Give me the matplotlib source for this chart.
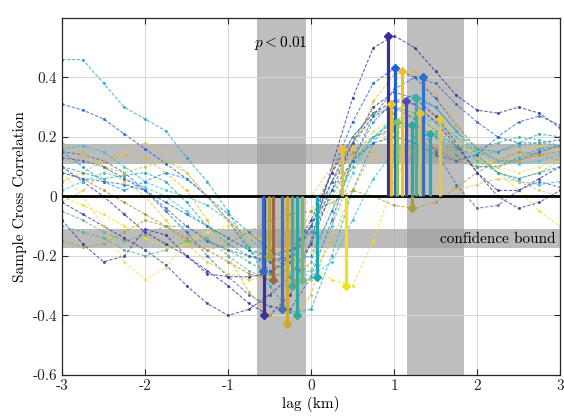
import matplotlib
matplotlib.use("Agg")
import matplotlib.pyplot as plt
import numpy as np

plt.rcParams['font.family'] = ['cmr10', 'DejaVu Serif']
plt.rcParams['mathtext.fontset'] = 'cm'
plt.rcParams['axes.unicode_minus'] = False

# ---- data ----
lags = [-3.0, -2.75, -2.5, -2.25, -2.0, -1.75, -1.5, -1.25, -1.0, -0.75, -0.5, -0.25,
        0.0, 0.25, 0.5, 0.75, 1.0, 1.25, 1.5, 1.75, 2.0, 2.25, 2.5, 2.75, 3.0]

c01 = [0.10, 0.05, 0.00, -0.06, -0.12, -0.16, -0.20, -0.25, -0.30, -0.36, -0.40, -0.33, -0.15, 0.10, 0.33, 0.50, 0.54, 0.50, 0.42, 0.34, 0.29, 0.28, 0.30, 0.28, 0.23]
c02 = [0.31, 0.29, 0.26, 0.21, 0.16, 0.11, 0.06, 0.00, -0.08, -0.18, -0.25, -0.22, -0.10, 0.08, 0.25, 0.38, 0.43, 0.40, 0.33, 0.24, 0.16, 0.12, 0.12, 0.15, 0.17]
c03 = [0.08, 0.06, 0.02, -0.02, -0.06, -0.10, -0.14, -0.18, -0.22, -0.26, -0.28, -0.24, -0.10, 0.05, 0.15, 0.20, 0.22, 0.20, 0.16, 0.12, 0.10, 0.10, 0.12, 0.14, 0.15]
c04 = [0.15, 0.14, 0.12, 0.08, 0.02, -0.05, -0.12, -0.20, -0.27, -0.33, -0.37, -0.38, -0.27, -0.08, 0.12, 0.27, 0.36, 0.40, 0.38, 0.31, 0.25, 0.20, 0.18, 0.18, 0.19]
c05 = [0.05, 0.08, 0.12, 0.14, 0.13, 0.08, 0.02, -0.08, -0.20, -0.32, -0.40, -0.43, -0.33, -0.10, 0.14, 0.32, 0.41, 0.42, 0.34, 0.24, 0.16, 0.12, 0.12, 0.14, 0.15]
c06 = [-0.05, -0.08, -0.12, -0.15, -0.13, -0.10, -0.10, -0.14, -0.20, -0.25, -0.28, -0.30, -0.22, -0.05, 0.10, 0.20, 0.25, 0.24, 0.20, 0.16, 0.14, 0.15, 0.17, 0.18, 0.17]
c07 = [0.46, 0.46, 0.38, 0.30, 0.26, 0.22, 0.13, 0.05, -0.05, -0.17, -0.30, -0.39, -0.38, -0.20, 0.02, 0.18, 0.28, 0.33, 0.30, 0.22, 0.16, 0.15, 0.18, 0.21, 0.20]
c08 = [0.18, 0.15, 0.10, 0.08, 0.10, 0.12, 0.08, 0.00, -0.08, -0.16, -0.22, -0.27, -0.28, -0.15, 0.02, 0.15, 0.24, 0.28, 0.27, 0.20, 0.13, 0.08, 0.06, 0.08, 0.12]
c09 = [0.16, 0.17, 0.15, 0.10, 0.05, 0.02, 0.00, -0.03, -0.08, -0.14, -0.20, -0.24, -0.27, -0.22, -0.08, 0.06, 0.15, 0.20, 0.21, 0.17, 0.12, 0.08, 0.05, 0.04, 0.05]
c10 = [0.00, -0.03, -0.06, -0.10, -0.14, -0.17, -0.16, -0.12, -0.10, -0.12, -0.16, -0.20, -0.24, -0.28, -0.30, -0.15, 0.05, 0.18, 0.25, 0.22, 0.15, 0.08, 0.02, -0.05, -0.10]
c11 = [0.12, 0.14, 0.10, 0.05, 0.00, -0.08, -0.16, -0.22, -0.26, -0.28, -0.27, -0.20, -0.05, 0.08, 0.17, 0.27, 0.31, 0.27, 0.20, 0.14, 0.11, 0.12, 0.15, 0.17, 0.16]
c12 = [-0.02, 0.02, 0.08, 0.15, 0.18, 0.15, 0.08, 0.00, -0.08, -0.14, -0.15, -0.10, 0.00, 0.10, 0.16, 0.14, 0.10, 0.06, 0.03, 0.02, 0.04, 0.06, 0.05, 0.02, 0.00]
c13 = [-0.08, -0.16, -0.22, -0.20, -0.11, -0.13, -0.20, -0.26, -0.27, -0.27, -0.26, -0.20, -0.08, 0.08, 0.20, 0.28, 0.32, 0.31, 0.25, 0.17, 0.08, 0.02, 0.02, 0.06, 0.10]
c14 = [-0.15, -0.17, -0.16, -0.12, -0.08, -0.10, -0.15, -0.18, -0.16, -0.12, -0.08, -0.06, -0.05, -0.02, 0.02, 0.00, -0.03, -0.04, -0.02, 0.03, 0.08, 0.12, 0.15, 0.14, 0.12]
c15 = [0.10, 0.08, 0.06, 0.07, 0.08, 0.05, -0.02, -0.10, -0.16, -0.20, -0.22, -0.20, -0.12, 0.00, 0.12, 0.20, 0.23, 0.24, 0.20, 0.14, 0.10, 0.10, 0.13, 0.16, 0.17]
c16 = [-0.02, -0.06, -0.10, -0.14, -0.18, -0.23, -0.30, -0.36, -0.40, -0.38, -0.33, -0.27, -0.16, 0.02, 0.18, 0.30, 0.35, 0.33, 0.27, 0.18, 0.08, 0.00, -0.04, -0.02, 0.02]
c17 = [0.08, 0.00, -0.10, -0.22, -0.28, -0.24, -0.15, -0.12, -0.14, -0.18, -0.22, -0.24, -0.18, -0.02, 0.12, 0.22, 0.26, 0.25, 0.22, 0.18, 0.14, 0.10, 0.08, 0.10, 0.12]
c18 = [0.15, 0.10, 0.05, 0.02, 0.05, 0.08, 0.06, 0.00, -0.06, -0.12, -0.18, -0.22, -0.20, -0.05, 0.12, 0.25, 0.32, 0.34, 0.30, 0.22, 0.14, 0.08, 0.06, 0.08, 0.10]
c19 = [-0.10, -0.12, -0.14, -0.18, -0.20, -0.18, -0.15, -0.15, -0.18, -0.22, -0.26, -0.27, -0.15, 0.05, 0.20, 0.28, 0.30, 0.28, 0.22, 0.17, 0.16, 0.18, 0.20, 0.19, 0.17]
c20 = [0.02, 0.05, 0.08, 0.06, 0.03, 0.00, -0.05, -0.10, -0.14, -0.18, -0.22, -0.26, -0.25, -0.10, 0.08, 0.20, 0.26, 0.27, 0.25, 0.20, 0.15, 0.12, 0.11, 0.12, 0.14]
c21 = [0.13, 0.12, 0.10, 0.06, 0.02, -0.04, -0.10, -0.15, -0.18, -0.20, -0.22, -0.20, -0.10, 0.05, 0.18, 0.27, 0.30, 0.26, 0.15, 0.04, -0.04, -0.03, 0.02, 0.05, 0.03]
c22 = [0.08, 0.06, 0.05, 0.04, 0.02, -0.02, -0.06, -0.10, -0.14, -0.18, -0.20, -0.18, -0.10, 0.02, 0.12, 0.18, 0.20, 0.18, 0.14, 0.12, 0.14, 0.20, 0.25, 0.27, 0.24]

curves = [c01, c02, c03, c04, c05, c06, c07, c08, c09, c10, c11,
          c12, c13, c14, c15, c16, c17, c18, c19, c20, c21, c22]
curve_colors = ['#3b2f9e', '#2060d8', '#b08a40', '#3a68c0', '#e0b830', '#60b090',
                '#20a8c0', '#b8c850', '#30c0d0', '#f0e020', '#e8c840', '#e8c070',
                '#4030a0', '#a8a040', '#30a8a0', '#3e3a90', '#e8e060', '#2a90d8',
                '#50b090', '#40c8e0', '#4a6ab0', '#3070c0']

# significant extrema (stems)
stem_x = [-0.57, -0.58, -0.51, -0.46, -0.35, -0.29, -0.23, -0.17, -0.11, 0.07, 0.42,
          0.37, 0.93, 0.96, 1.01, 1.04, 1.10, 1.14, 1.22, 1.22, 1.27, 1.31, 1.35, 1.43, 1.55]
stem_y = [-0.40, -0.25, -0.20, -0.28, -0.38, -0.43, -0.30, -0.40, -0.28, -0.27, -0.30,
          0.16, 0.54, 0.31, 0.43, 0.25, 0.42, 0.32, 0.24, -0.04, 0.33, 0.28, 0.40, 0.21, 0.26]
stem_colors = ['#3b2f9e', '#3a68c0', '#b0a040', '#9a6a48', '#4a70b0', '#d0a830', '#50a890',
               '#30a8a0', '#70b880', '#20a8b0', '#f0e020',
               '#e8c030', '#3b2f9e', '#e8c030', '#2060d8', '#80c070', '#e8c030', '#4a4ab8',
               '#30a8a0', '#a8a040', '#40b0a0', '#e0c040', '#3070c8', '#30a8b0', '#e0c840']

band_lags = [(-0.65, -0.06), (1.16, 1.84)]
conf_bound = (0.11, 0.175)

xticks = [-3, -2, -1, 0, 1, 2, 3]
xticklabels = ['-3', '-2', '-1', '0', '1', '2', '3']
yticks = [-0.6, -0.4, -0.2, 0, 0.2, 0.4]
yticklabels = ['-0.6', '-0.4', '-0.2', '0', '0.2', '0.4']

# ---- plot ----
fig = plt.figure(figsize=(5.64, 4.17), dpi=100)
ax = fig.add_axes([0.110, 0.101, 0.883, 0.856])

for lo, hi in band_lags:
    ax.axvspan(lo, hi, color='#a8a8a8', alpha=0.75, lw=0, zorder=0.5)
ax.axhspan(conf_bound[0], conf_bound[1], color='#a0a0a0', alpha=0.7, lw=0, zorder=0.6)
ax.axhspan(-conf_bound[1], -conf_bound[0], color='#a0a0a0', alpha=0.7, lw=0, zorder=0.6)

for ys, col in zip(curves, curve_colors):
    ax.plot(lags, ys, color=col, lw=0.8, ls=(0, (3, 1.5)), marker='.', ms=2.5,
            alpha=0.75, zorder=2)

ax.axhline(0, color='black', lw=2, zorder=3)

for sx, sy, col in zip(stem_x, stem_y, stem_colors):
    ax.plot([sx, sx], [0, sy], color=col, lw=2.3, zorder=4, solid_capstyle='butt')
    ax.plot([sx], [sy], marker='D', color=col, ms=4.5, zorder=5)

ax.set_xlim(-3, 3)
ax.set_ylim(-0.6, 0.6)
ax.set_xticks(xticks)
ax.set_xticklabels(xticklabels)
ax.set_yticks(yticks)
ax.set_yticklabels(yticklabels)
ax.grid(True, color='#d8d8d8', lw=0.7, zorder=0)
ax.set_axisbelow(True)
ax.tick_params(direction='in', top=True, right=True, labelsize=11, length=4, width=0.8,
               colors='#262626', labelcolor='#262626')
for s in ax.spines.values():
    s.set_color('#262626')
    s.set_linewidth(0.9)

ax.set_xlabel('lag (km)', fontsize=11, labelpad=2)
ax.set_ylabel('Sample Cross Correlation', fontsize=11, labelpad=4)

ax.text(-0.37, 0.515, r'$p < 0.01$', fontsize=11, ha='center', va='center', zorder=6)
ax.text(2.95, -0.142, 'confidence bound', fontsize=11, ha='right', va='center', zorder=6)

fig.savefig('out.png', dpi=100)
